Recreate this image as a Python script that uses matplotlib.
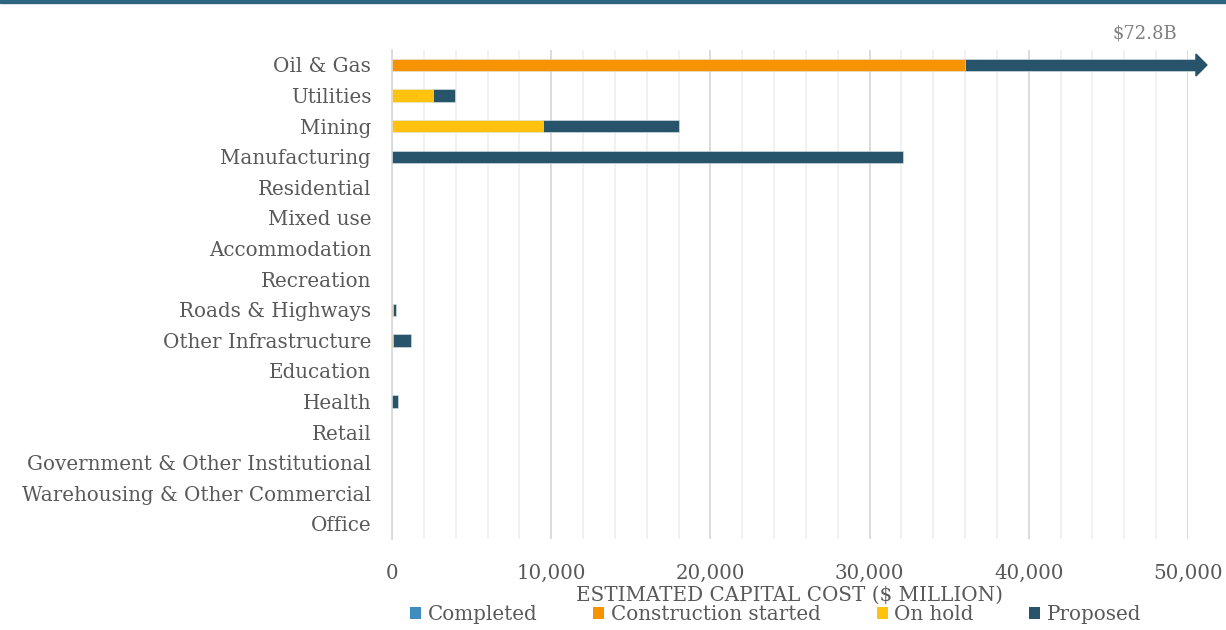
import matplotlib
matplotlib.use("Agg")
import matplotlib.pyplot as plt
from matplotlib.patches import Polygon, Rectangle
from matplotlib.ticker import FuncFormatter, MultipleLocator
import numpy as np

# Estimated capital cost by sector and project status ($ million)
categories = [
    "Oil & Gas", "Utilities", "Mining", "Manufacturing", "Residential",
    "Mixed use", "Accommodation", "Recreation", "Roads & Highways",
    "Other Infrastructure", "Education", "Health", "Retail",
    "Government & Other Institutional", "Warehousing & Other Commercial",
    "Office",
]
completed = [0, 0, 0, 0, 0, 0, 0, 0, 0, 0, 0, 0, 0, 0, 0, 0]
construction_started = [36000, 0, 0, 0, 0, 0, 0, 0, 80, 60, 0, 0, 0, 0, 0, 0]
on_hold = [0, 2550, 9500, 0, 0, 0, 0, 0, 0, 0, 0, 0, 0, 0, 0, 0]
proposed = [36800, 1400, 8500, 32100, 0, 0, 0, 0, 150, 1120, 0, 400, 0, 0, 0, 0]

series_names = ["Completed", "Construction started", "On hold", "Proposed"]
series_values = [completed, construction_started, on_hold, proposed]
series_colors = ["#3f8dbf", "#f79200", "#fec20f", "#27536b"]

x_max = 50000
bar_cap = 50500      # where an overflowing bar stops and the arrow head begins

text_gray = "#595959"
plt.rcParams["font.family"] = ["DejaVu Serif"]

fig = plt.figure(figsize=(12.26, 6.30), dpi=100)
ax = fig.add_axes([392 / 1226, 1 - 539.3 / 630, (1188 - 392) / 1226, (539.3 - 49.7) / 630])

y = np.arange(len(categories))
bar_h = 0.40
left = np.zeros(len(categories))
for name, vals, color in zip(series_names, series_values, series_colors):
    vals = np.asarray(vals, dtype=float)
    widths = np.minimum(vals, np.maximum(bar_cap - left, 0))
    nz = widths > 0
    ax.barh(y[nz], widths[nz], left=left[nz], height=bar_h, color=color,
            edgecolor="#dfe6ea", linewidth=0.4, clip_on=False, zorder=3)
    # legend proxy
    ax.barh([0], [0], color=color, label=name, linewidth=0)
    left = left + vals

# arrow heads for bars that run past the axis
totals = left
for yi, tot in zip(y, totals):
    if tot > x_max:
        head_len = (1207 - 1196) / (1188 - 392) * x_max
        head = Polygon([[bar_cap, yi - 0.36], [bar_cap + head_len, yi],
                        [bar_cap, yi + 0.36]], closed=True,
                       color=series_colors[-1], clip_on=False, zorder=4)
        ax.add_patch(head)
        ax.text(bar_cap - 1150, yi - 0.72, f"${tot / 1000:.1f}B",
                ha="right", va="bottom", color="#7f7f7f", fontsize=13)

ax.set_xlim(0, x_max)
ax.set_ylim(len(categories) - 0.5, -0.5)
ax.set_yticks(y)
ax.set_yticklabels(categories)
ax.xaxis.set_major_locator(MultipleLocator(10000))
ax.xaxis.set_minor_locator(MultipleLocator(2000))
ax.xaxis.set_major_formatter(FuncFormatter(lambda v, p: f"{int(v):,}"))
ax.grid(axis="x", which="major", color="#d9d9d9", linewidth=1.3, zorder=0)
ax.grid(axis="x", which="minor", color="#eeeeee", linewidth=1.1, zorder=0)
ax.axvline(0, color="#d9d9d9", linewidth=1.3, clip_on=False, zorder=0)
ax.set_axisbelow(True)
for s in ax.spines.values():
    s.set_visible(False)
ax.tick_params(axis="both", which="both", length=0, labelsize=14.3, labelcolor=text_gray)
ax.tick_params(axis="x", pad=18)
ax.tick_params(axis="y", pad=15)

ax.set_xlabel("ESTIMATED CAPITAL COST ($ MILLION)", fontsize=14.3, color=text_gray, labelpad=2)

handles, labels = ax.get_legend_handles_labels()
leg = fig.legend(handles, labels, loc="center", bbox_to_anchor=(776 / 1226, 1 - 615 / 630),
                 ncol=4, frameon=False, fontsize=14.3, handlelength=0.55, handleheight=0.55,
                 handletextpad=0.35, columnspacing=2.8, borderaxespad=0)
for t in leg.get_texts():
    t.set_color(text_gray)

# header rule along the top edge
fig.add_artist(Rectangle((0, 1 - 3 / 630), 1, 3 / 630, transform=fig.transFigure,
                         color="#2f6482", zorder=10))

fig.savefig("out.png", dpi=100)
